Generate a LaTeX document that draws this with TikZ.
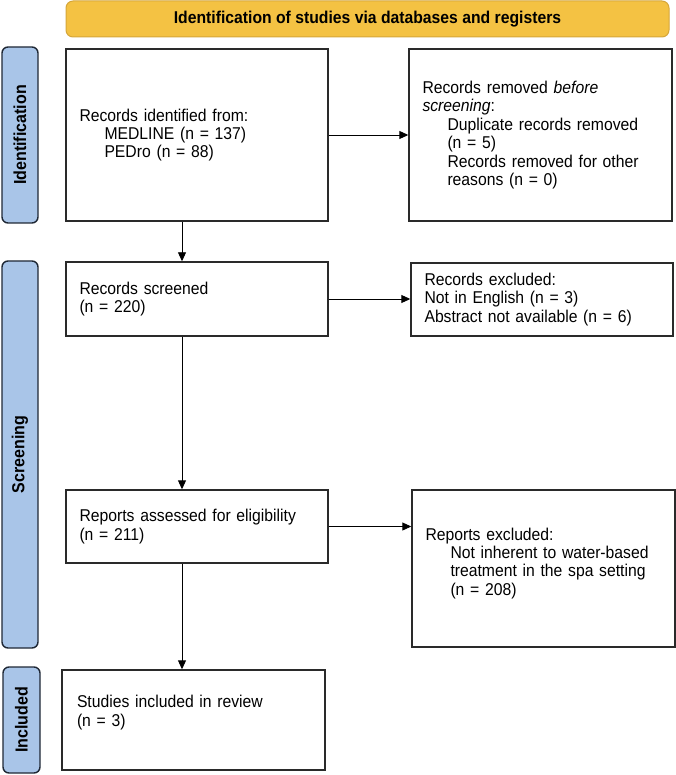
\documentclass[tikz,border=0pt]{standalone}
\usepackage{fontspec}
\setmainfont{Liberation Sans}[FakeStretch=0.92]
\usepackage{graphicx}
\usetikzlibrary{arrows.meta,calc}
\definecolor{titlefill}{HTML}{F4C243}
\definecolor{titledraw}{HTML}{D5A63A}
\definecolor{sidefill}{HTML}{A9C5E8}
\definecolor{sidedraw}{HTML}{1F2835}
\definecolor{boxdraw}{HTML}{2A2A2A}
\begin{document}
\begin{tikzpicture}[x=1pt,y=-1pt,
  txt/.style={font=\fontsize{17.1}{18.4}\selectfont},
  flowbox/.style={draw=boxdraw, line width=1.4pt, fill=white, align=left,
    inner xsep=13.5pt, inner ysep=0pt, txt},
  sidebox/.style={draw=sidedraw, fill=sidefill, line width=1.4pt,
    rounded corners=6pt, minimum width=36pt, inner sep=0pt,
    font=\bfseries\fontsize{17.4}{18}\selectfont},
  titlebox/.style={draw=titledraw, fill=titlefill, line width=1pt,
    rounded corners=7pt, minimum width=603pt, minimum height=36pt,
    inner sep=0pt, font=\bfseries\fontsize{17.1}{18}\selectfont},
  arr/.style={-{Triangle[length=9pt,width=8pt]}, line width=0.9pt, draw=black}
]
\useasboundingbox (0,0) rectangle (676,775);

\node[titlebox] (title) at (367.5,19) {Identification of studies via databases and registers};

\node[sidebox, minimum height=176pt] (sidI) at (20,135) {\rotatebox{90}{Identification}};
\node[sidebox, minimum height=387pt] (sidS) at (20,454.5) {\rotatebox{90}{Screening}};
\node[sidebox, minimum height=106pt, minimum width=37pt] (sidN) at (21.5,720) {\rotatebox{90}{Included}};

\node[flowbox, text width=235pt, minimum height=172pt] (b1) at (197,135)
  {Records identified from:\\\hspace*{25pt}MEDLINE (n = 137)\\\hspace*{25pt}PEDro (n = 88)};
\node[flowbox, text width=236pt, minimum height=172pt] (r1) at (540.5,135)
  {Records removed \textit{before}\\\textit{screening}:\\\hspace*{25pt}Duplicate records removed\\\hspace*{25pt}(n = 5)\\\hspace*{25pt}Records removed for other\\\hspace*{25pt}reasons (n = 0)};

\node[flowbox, text width=235pt, minimum height=74pt] (b2) at (197,299)
  {Records screened\\(n = 220)};
\node[flowbox, text width=235pt, minimum height=73pt] (r2) at (542,299.5)
  {Records excluded:\\Not in English (n = 3)\\Abstract not available (n = 6)};

\node[flowbox, text width=235pt, minimum height=73pt] (b3) at (197,526.5)
  {Reports assessed for eligibility\\(n = 211)};
\node[flowbox, text width=236pt, minimum height=157pt] (r3) at (543.5,568.5)
  {Reports excluded:\\\hspace*{25pt}Not inherent to water-based\\\hspace*{25pt}treatment in the spa setting\\\hspace*{25pt}(n = 208)\\[-4.2pt]\mbox{}};

\node[flowbox, inner xsep=15pt, text width=233pt, minimum height=100pt] (b4) at (193.5,720)
  {Studies included in review\\(n = 3)\\[0pt]\mbox{}};

\coordinate (ax) at (182,0);
\draw[arr] (b1.south -| ax) -- (b2.north -| ax);
\draw[arr] (b1.east) -- (r1.west);
\draw[arr] (b2.east) -- (b2.east -| r2.west);
\draw[arr] (b2.south -| ax) -- (b3.north -| ax);
\draw[arr] (b3.east) -- (b3.east -| r3.west);
\draw[arr] (b3.south -| ax) -- (b4.north -| ax);
\end{tikzpicture}
\end{document}
